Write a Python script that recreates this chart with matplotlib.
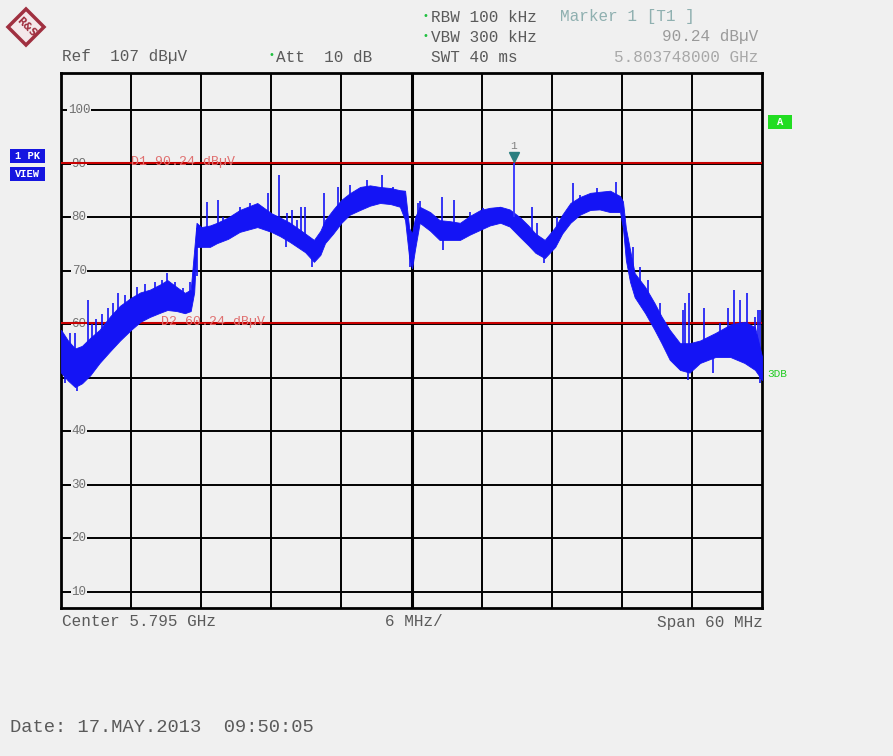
import numpy as np
import matplotlib.pyplot as plt
from matplotlib.patches import Polygon, Rectangle

# Spectrum trace (offset in MHz from 5.765 GHz, level in dBuV)
freq_mhz = [0.0, 0.6, 1.2, 1.8, 2.5, 3.3, 4.2, 5.05, 6.0, 6.8, 7.6, 8.5, 9.1, 9.9,
            10.6, 11.1, 11.4, 11.6, 12.0, 12.75, 13.35, 14.3, 15.3, 16.8, 18.0, 18.75,
            19.6, 20.9, 21.65, 22.2, 22.6, 23.3, 24.0, 24.7, 25.6, 26.45, 27.3, 28.2,
            29.0, 29.45, 29.8, 30.05, 30.3, 30.7, 31.6, 32.4, 33.3, 34.15, 35.0, 35.9,
            36.7, 37.6, 38.4, 39.3, 40.0, 40.6, 41.4, 42.3, 42.9, 43.6, 44.4, 45.3,
            46.1, 47.0, 47.85, 48.1, 48.35, 48.7, 49.1, 50.0, 50.8, 51.4, 52.1, 52.98,
            53.8, 54.7, 56.0, 57.3, 58.5, 59.4, 60.0]
level_lo = [51, 49.5, 48.3, 49, 50.5, 52.8, 55, 57, 59, 60.5, 61.4, 62.2, 62.7, 62.5,
            62.1, 62.5, 66, 74.5, 74.5, 74.5, 75.2, 76, 77.3, 78.2, 77.3, 76.5,
            75.4, 73.5, 71.7, 73, 75.2, 77, 79, 80.5, 81.4, 82.2, 82.7, 82.5,
            82, 79.5, 72.5, 70.5, 74, 79, 77.5, 75.8, 75.8, 75.8, 76.8, 77.7,
            78.5, 79, 78.3, 76.3, 74.8, 73.4, 72.4, 74.5, 77, 79, 80.5, 81.4,
            81.5, 81, 81, 78, 72, 68, 65.1, 62.1, 59, 56.5, 53.4, 51.5,
            51, 52.8, 53.9, 53.9, 52.8, 51.5, 49.6]
level_hi = [59, 57, 55.5, 56, 57.5, 59, 61.5, 63.5, 65, 66, 66.5, 67.5, 68.3, 67,
            65.9, 66.5, 74, 79, 78.2, 78.5, 79, 80, 81.4, 82.7, 80.8, 80,
            79, 77, 75.8, 77.5, 79.5, 81.5, 83.3, 84.5, 85.7, 86, 85.7, 85.5,
            85.1, 85, 78, 77, 80, 82, 81, 79.5, 79.3, 79, 80.3, 81.4,
            81.8, 82, 81.5, 80, 78.5, 77, 75.8, 78.2, 80.5, 82.7, 83.8, 84.6,
            84.8, 85, 84, 83, 78, 74, 69.6, 67, 64, 61.5, 59, 56.5,
            56.5, 57, 58.4, 60, 60.5, 59.5, 54]

# peaks standing out above the trace
spike_mhz = [0.77, 1.2, 2.3, 2.65, 3.0, 3.5, 4.02, 4.45, 4.9, 5.48, 6.5, 7.19, 8.05,
             8.65, 9.1, 9.76, 10.44, 11.04, 12.5, 13.4, 13.87, 15.32, 16.18, 17.7,
             18.65, 19.34, 19.77, 20.2, 20.5, 20.88, 22.5, 23.7, 24.74, 26.19, 27.5,
             28.42, 30.55, 30.73, 32.6, 33.6, 35.0, 36.12, 37.58, 40.3, 40.74, 42.46,
             43.8, 44.42, 45.88, 46.31, 47.5, 48.96, 49.6, 50.25, 51.27, 51.96, 53.24,
             53.4, 53.75, 55.0, 56.4, 57.1, 57.6, 58.1, 58.7, 59.4, 59.7, 59.83]
spike_db = [58.4, 58.4, 64.6, 60, 61, 62, 63, 64, 65.9, 65.5, 67, 67.5, 68,
            68.3, 69.6, 68, 66.8, 68, 82.9, 83.3, 80, 82, 82.7, 84.6,
            88, 80.8, 81.4, 79.5, 82, 82, 84.6, 85.7, 86, 87, 88,
            85.7, 82.7, 83, 83.8, 83.3, 81, 81.8, 82, 82, 79, 80,
            86.4, 84.2, 85.5, 84.6, 86.6, 74.5, 70.8, 68.3, 64, 59.5, 62.7,
            64, 65.9, 63, 60.3, 63, 66.4, 64.6, 65.9, 61.4, 62.7, 62.7]

# dips reaching below the trace
dip_mhz = [0.35, 1.37, 11.6, 19.3, 21.5, 29.9, 32.7, 41.3, 53.7, 55.8, 59.8]
dip_db = [49, 47.5, 69, 74.5, 70.8, 70.7, 74, 71.5, 49.6, 51, 49]

marker_mhz = 38.748
marker_db = 90.24
d1_db = 90.24
d2_db = 60.24

W, H = 893, 756
BG = "#f0f0f0"
TXT = "#5a5a5a"
BLUE = "#1414f5"
mono = "Liberation Mono"


def fx(x):
    return x / W


def fy(y):
    return 1 - y / H


fig = plt.figure(figsize=(W / 100, H / 100), dpi=100, facecolor=BG)
ax = fig.add_axes([fx(61), fy(608), 701 / W, 535 / H])
ax.set_facecolor(BG)
ax.set_xlim(0, 60)
ax.set_ylim(7, 107)
ax.set_xticks([])
ax.set_yticks([])
for s in ax.spines.values():
    s.set_linewidth(2)
    s.set_color("black")

# grid
for i in range(1, 10):
    ax.axvline(i * 6, color="black", lw=2.2 if i == 5 else 1.4, zorder=1)
for lev in range(10, 101, 10):
    ax.axhline(lev, color="black", lw=1.4, zorder=1)
    ax.text(1.55, lev, str(lev), ha="center", va="center", fontsize=9,
            family=mono, color="#707070", zorder=2,
            bbox=dict(facecolor=BG, edgecolor="none", pad=0.5))

# display lines
ax.axhline(d1_db, color="#c80000", lw=1.5, zorder=3)
ax.axhline(d2_db, color="#c80000", lw=1.5, zorder=3)
ax.text(6.0, d1_db + 0.2, "D1 90.24 dB\u00b5V", fontsize=9.5, family=mono,
        color="#e07070", va="center", zorder=4)
ax.text(8.6, d2_db + 0.2, "D2 60.24 dB\u00b5V", fontsize=9.5, family=mono,
        color="#e07070", va="center", zorder=4)

# trace
ax.fill_between(freq_mhz, level_lo, level_hi, color=BLUE, lw=0.6, zorder=5)
spike_base = np.interp(spike_mhz, freq_mhz, level_lo) + 1
ax.vlines(spike_mhz, spike_base, spike_db, color=BLUE, lw=1.2, zorder=5)
dip_top = np.interp(dip_mhz, freq_mhz, level_hi) - 1
ax.vlines(dip_mhz, dip_db, dip_top, color=BLUE, lw=1.2, zorder=5)
ax.vlines([marker_mhz], [80], [marker_db], color="#3030ff", lw=1.3, zorder=5)

# marker
ax.plot([marker_mhz], [marker_db + 1.1], marker="v", ms=7, color="#2a7f80", zorder=6)
ax.text(marker_mhz, marker_db + 3.2, "1", ha="center", va="center", fontsize=8,
        family=mono, color="#808080", zorder=6)

# header
hs = 11.5
fig.text(fx(62), fy(57), "Ref  107 dB\u00b5V", fontsize=hs, family=mono, color=TXT, va="center")
fig.text(fx(268), fy(55), "\u2022", fontsize=7, color="#20c040", va="center")
fig.text(fx(276), fy(57), "Att  10 dB", fontsize=hs, family=mono, color=TXT, va="center")
fig.text(fx(423), fy(16), "\u2022", fontsize=7, color="#20c040", va="center")
fig.text(fx(431), fy(17), "RBW 100 kHz", fontsize=hs, family=mono, color=TXT, va="center")
fig.text(fx(423), fy(36), "\u2022", fontsize=7, color="#20c040", va="center")
fig.text(fx(431), fy(37), "VBW 300 kHz", fontsize=hs, family=mono, color=TXT, va="center")
fig.text(fx(431), fy(57), "SWT 40 ms", fontsize=hs, family=mono, color=TXT, va="center")
fig.text(fx(560), fy(17), "Marker 1 [T1 ]", fontsize=hs, family=mono, color="#8fb0b0",
         va="center")
fig.text(fx(758), fy(37), "90.24 dB\u00b5V", fontsize=hs, family=mono, color="#9a9a9a",
         va="center", ha="right")
fig.text(fx(758), fy(57), "5.803748000 GHz", fontsize=hs, family=mono, color="#a8a8a8",
         va="center", ha="right")

# footer
fig.text(fx(62), fy(622), "Center 5.795 GHz", fontsize=hs, family=mono, color=TXT, va="center")
fig.text(fx(385), fy(622), "6 MHz/", fontsize=hs, family=mono, color=TXT, va="center")
fig.text(fx(763), fy(622), "Span 60 MHz", fontsize=hs, family=mono, color=TXT,
         va="center", ha="right")
fig.text(fx(10), fy(728), "Date: 17.MAY.2013  09:50:05", fontsize=13.5, family=mono,
         color=TXT, va="center")

# side badges
fig.patches.append(Rectangle((fx(10), fy(163)), 35 / W, 14 / H, transform=fig.transFigure,
                             facecolor="#1515e0", edgecolor="none"))
fig.patches.append(Rectangle((fx(10), fy(181)), 35 / W, 14 / H, transform=fig.transFigure,
                             facecolor="#1515e0", edgecolor="none"))
fig.text(fx(27.5), fy(156), "1 PK", fontsize=7.5, family=mono, weight="bold", color="white",
         ha="center", va="center")
fig.text(fx(27.5), fy(174), "VIEW", fontsize=7.5, family=mono, weight="bold", color="white",
         ha="center", va="center")
fig.patches.append(Rectangle((fx(768), fy(129)), 24 / W, 14 / H, transform=fig.transFigure,
                             facecolor="#22dd22", edgecolor="none"))
fig.text(fx(780), fy(122), "A", fontsize=7.5, family=mono, weight="bold", color="white",
         ha="center", va="center")
fig.text(fx(767), fy(374), "3DB", fontsize=8, family=mono, color="#22cc22", va="center")

# R&S logo
cx, cy, r = 26, 27, 18
fig.patches.append(Polygon([(fx(cx - r), fy(cy)), (fx(cx), fy(cy - r)), (fx(cx + r), fy(cy)),
                            (fx(cx), fy(cy + r))], closed=True, transform=fig.transFigure,
                           facecolor="#f4e8ea", edgecolor="#a03040", lw=2.5))
fig.text(fx(cx), fy(cy), "R&S", fontsize=7, color="#a03040", weight="bold",
         rotation=-45, ha="center", va="center")

fig.savefig("out.png", dpi=100, facecolor=BG)
